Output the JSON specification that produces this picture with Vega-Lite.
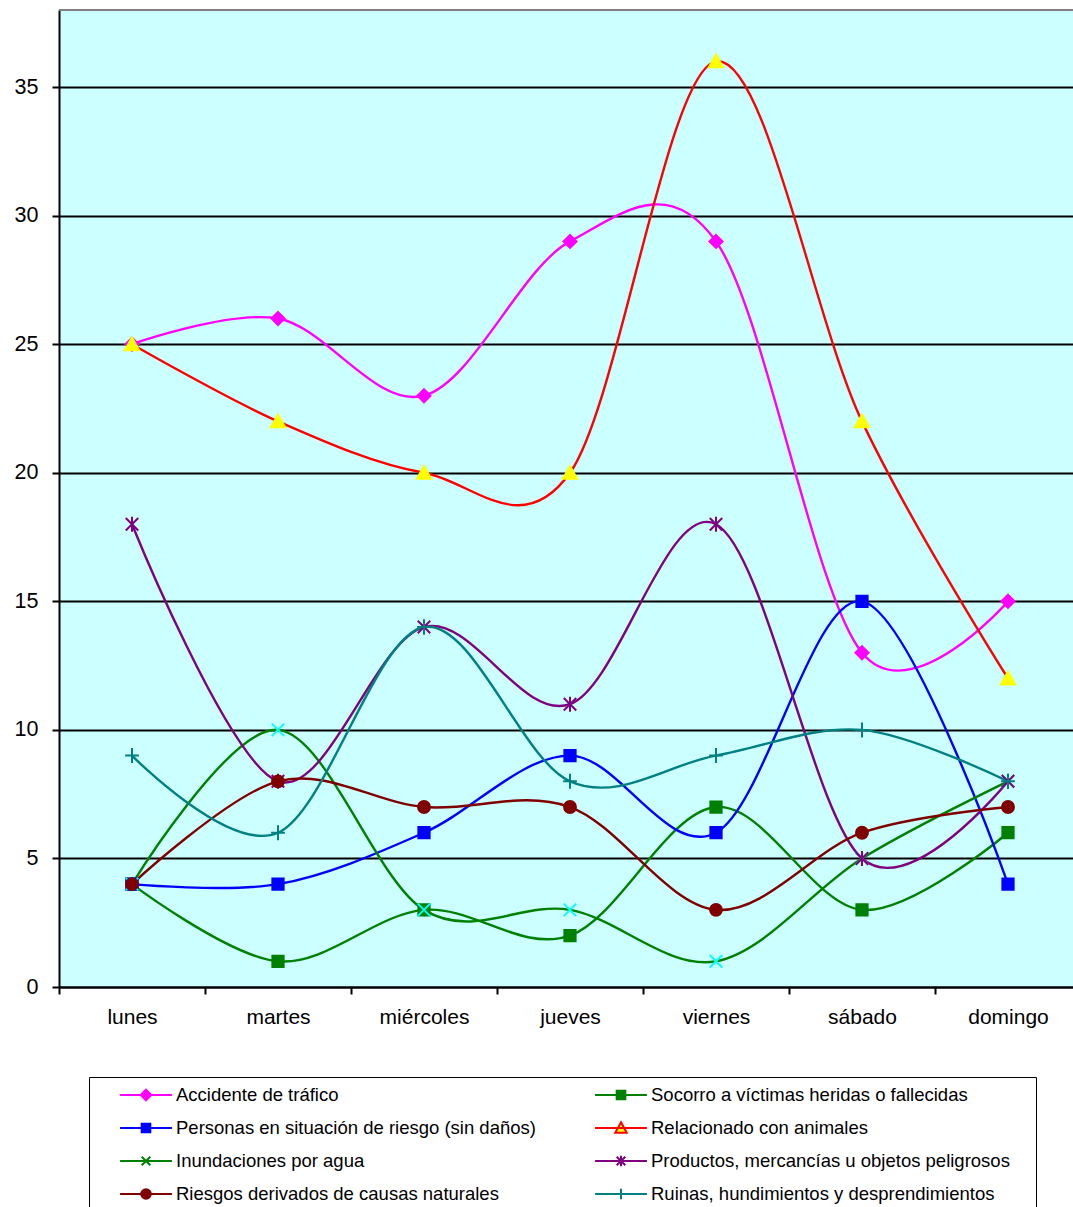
{
  "$schema": "https://vega.github.io/schema/vega-lite/v6.json",
  "width": 1014,
  "height": 977,
  "autosize": {"type": "none"},
  "padding": {"left": 59, "top": 10, "right": 0, "bottom": 220},
  "background": "white",
  "config": {"view": {"fill": "#CCFFFF", "stroke": null}, "font": "Liberation Sans"},
  "data": {"values": [
    {"dia": "lunes", "serie": "Accidente de tráfico", "valor": 25},
    {"dia": "martes", "serie": "Accidente de tráfico", "valor": 26},
    {"dia": "miércoles", "serie": "Accidente de tráfico", "valor": 23},
    {"dia": "jueves", "serie": "Accidente de tráfico", "valor": 29},
    {"dia": "viernes", "serie": "Accidente de tráfico", "valor": 29},
    {"dia": "sábado", "serie": "Accidente de tráfico", "valor": 13},
    {"dia": "domingo", "serie": "Accidente de tráfico", "valor": 15},
    {"dia": "lunes", "serie": "Socorro a víctimas heridas o fallecidas", "valor": 4},
    {"dia": "martes", "serie": "Socorro a víctimas heridas o fallecidas", "valor": 1},
    {"dia": "miércoles", "serie": "Socorro a víctimas heridas o fallecidas", "valor": 3},
    {"dia": "jueves", "serie": "Socorro a víctimas heridas o fallecidas", "valor": 2},
    {"dia": "viernes", "serie": "Socorro a víctimas heridas o fallecidas", "valor": 7},
    {"dia": "sábado", "serie": "Socorro a víctimas heridas o fallecidas", "valor": 3},
    {"dia": "domingo", "serie": "Socorro a víctimas heridas o fallecidas", "valor": 6},
    {"dia": "lunes", "serie": "Personas en situación de riesgo (sin daños)", "valor": 4},
    {"dia": "martes", "serie": "Personas en situación de riesgo (sin daños)", "valor": 4},
    {"dia": "miércoles", "serie": "Personas en situación de riesgo (sin daños)", "valor": 6},
    {"dia": "jueves", "serie": "Personas en situación de riesgo (sin daños)", "valor": 9},
    {"dia": "viernes", "serie": "Personas en situación de riesgo (sin daños)", "valor": 6},
    {"dia": "sábado", "serie": "Personas en situación de riesgo (sin daños)", "valor": 15},
    {"dia": "domingo", "serie": "Personas en situación de riesgo (sin daños)", "valor": 4},
    {"dia": "lunes", "serie": "Relacionado con animales", "valor": 25},
    {"dia": "martes", "serie": "Relacionado con animales", "valor": 22},
    {"dia": "miércoles", "serie": "Relacionado con animales", "valor": 20},
    {"dia": "jueves", "serie": "Relacionado con animales", "valor": 20},
    {"dia": "viernes", "serie": "Relacionado con animales", "valor": 36},
    {"dia": "sábado", "serie": "Relacionado con animales", "valor": 22},
    {"dia": "domingo", "serie": "Relacionado con animales", "valor": 12},
    {"dia": "lunes", "serie": "Inundaciones por agua", "valor": 4},
    {"dia": "martes", "serie": "Inundaciones por agua", "valor": 10},
    {"dia": "miércoles", "serie": "Inundaciones por agua", "valor": 3},
    {"dia": "jueves", "serie": "Inundaciones por agua", "valor": 3},
    {"dia": "viernes", "serie": "Inundaciones por agua", "valor": 1},
    {"dia": "sábado", "serie": "Inundaciones por agua", "valor": 5},
    {"dia": "domingo", "serie": "Inundaciones por agua", "valor": 8},
    {"dia": "lunes", "serie": "Productos, mercancías u objetos peligrosos", "valor": 18},
    {"dia": "martes", "serie": "Productos, mercancías u objetos peligrosos", "valor": 8},
    {"dia": "miércoles", "serie": "Productos, mercancías u objetos peligrosos", "valor": 14},
    {"dia": "jueves", "serie": "Productos, mercancías u objetos peligrosos", "valor": 11},
    {"dia": "viernes", "serie": "Productos, mercancías u objetos peligrosos", "valor": 18},
    {"dia": "sábado", "serie": "Productos, mercancías u objetos peligrosos", "valor": 5},
    {"dia": "domingo", "serie": "Productos, mercancías u objetos peligrosos", "valor": 8},
    {"dia": "lunes", "serie": "Riesgos derivados de causas naturales", "valor": 4},
    {"dia": "martes", "serie": "Riesgos derivados de causas naturales", "valor": 8},
    {"dia": "miércoles", "serie": "Riesgos derivados de causas naturales", "valor": 7},
    {"dia": "jueves", "serie": "Riesgos derivados de causas naturales", "valor": 7},
    {"dia": "viernes", "serie": "Riesgos derivados de causas naturales", "valor": 3},
    {"dia": "sábado", "serie": "Riesgos derivados de causas naturales", "valor": 6},
    {"dia": "domingo", "serie": "Riesgos derivados de causas naturales", "valor": 7},
    {"dia": "lunes", "serie": "Ruinas, hundimientos y desprendimientos", "valor": 9},
    {"dia": "martes", "serie": "Ruinas, hundimientos y desprendimientos", "valor": 6},
    {"dia": "miércoles", "serie": "Ruinas, hundimientos y desprendimientos", "valor": 14},
    {"dia": "jueves", "serie": "Ruinas, hundimientos y desprendimientos", "valor": 8},
    {"dia": "viernes", "serie": "Ruinas, hundimientos y desprendimientos", "valor": 9},
    {"dia": "sábado", "serie": "Ruinas, hundimientos y desprendimientos", "valor": 10},
    {"dia": "domingo", "serie": "Ruinas, hundimientos y desprendimientos", "valor": 8}
  ]},
  "encoding": {
    "x": {
      "field": "dia", "type": "nominal",
      "sort": ["lunes", "martes", "miércoles", "jueves", "viernes", "sábado", "domingo"],
      "scale": {"type": "band", "range": [0, 1022], "paddingInner": 0, "paddingOuter": 0},
      "axis": {"title": null, "labelAngle": 0, "grid": false, "domainColor": "black", "domainWidth": 2, "tickColor": "black", "tickWidth": 2, "tickSize": 7, "tickBand": "extent", "labelFontSize": 21, "labelColor": "black", "labelPadding": 12}
    },
    "y": {
      "field": "valor", "type": "quantitative",
      "scale": {"domain": [0, 38], "nice": false, "zero": true},
      "axis": {"title": null, "values": [0, 5, 10, 15, 20, 25, 30, 35], "grid": true, "gridColor": "black", "gridWidth": 2, "domainColor": "black", "domainWidth": 2, "tickColor": "black", "tickWidth": 2, "tickSize": 7, "labelFontSize": 21.5, "labelColor": "black", "labelPadding": 14}
    }
  },
  "layer": [
    {
      "data": {"values": [{"tope": 38}]},
      "mark": {"type": "rule", "color": "#808080", "strokeWidth": 2},
      "encoding": {"x": null, "y": {"field": "tope", "type": "quantitative"}}
    },
    {
      "mark": {"type": "line", "interpolate": "cardinal", "strokeWidth": 2.4},
      "encoding": {
        "stroke": {
          "field": "serie", "type": "nominal",
          "scale": {
            "domain": ["Accidente de tráfico", "Socorro a víctimas heridas o fallecidas", "Personas en situación de riesgo (sin daños)", "Relacionado con animales", "Inundaciones por agua", "Productos, mercancías u objetos peligrosos", "Riesgos derivados de causas naturales", "Ruinas, hundimientos y desprendimientos"],
            "range": ["#FF00FF", "#008000", "#0000FF", "#FF0000", "#008000", "#800080", "#800000", "#008080"]
          },
          "legend": {
            "title": " ", "titleOrient": "right", "titlePadding": 18, "titleFontSize": 10,
            "orient": "none", "legendX": 30, "legendY": 1067, "direction": "horizontal",
            "columns": 2, "columnPadding": 36, "rowPadding": 13, "clipHeight": 20,
            "symbolSize": 9216, "symbolStrokeWidth": 2, "labelOffset": -19,
            "labelFontSize": 18.5, "labelColor": "black", "labelLimit": 600,
            "padding": 8, "strokeColor": "black", "fillColor": "white",
            "encode": {"symbols": {"update": {
              "shape": {"signal": "{'Accidente de tráfico': 'M-0.54,0L0.54,0M0,-0.11L0.11,0L0,0.11L-0.11,0Z', 'Socorro a víctimas heridas o fallecidas': 'M-0.54,0L0.54,0M-0.09,-0.09L0.09,-0.09L0.09,0.09L-0.09,0.09Z', 'Personas en situación de riesgo (sin daños)': 'M-0.54,0L0.54,0M-0.09,-0.09L0.09,-0.09L0.09,0.09L-0.09,0.09Z', 'Relacionado con animales': 'M-0.54,0L0.54,0M0,-0.12L0.12,0.1L-0.12,0.1Z', 'Inundaciones por agua': 'M-0.54,0L0.54,0M-0.09,-0.09L0.09,0.09M-0.09,0.09L0.09,-0.09', 'Productos, mercancías u objetos peligrosos': 'M-0.54,0L0.54,0M-0.09,-0.09L0.09,0.09M-0.09,0.09L0.09,-0.09M0,-0.11L0,0.11', 'Riesgos derivados de causas naturales': 'M-0.54,0L0.54,0M-0.1,0A0.1,0.1 0 1,0 0.1,0A0.1,0.1 0 1,0 -0.1,0Z', 'Ruinas, hundimientos y desprendimientos': 'M-0.54,0L0.54,0M0,-0.11L0,0.11'}[datum.value]"},
              "fill": {"signal": "{'Accidente de tráfico': '#FF00FF', 'Socorro a víctimas heridas o fallecidas': '#008000', 'Personas en situación de riesgo (sin daños)': '#0000FF', 'Relacionado con animales': '#FFFF00', 'Inundaciones por agua': 'transparent', 'Productos, mercancías u objetos peligrosos': 'transparent', 'Riesgos derivados de causas naturales': '#800000', 'Ruinas, hundimientos y desprendimientos': 'transparent'}[datum.value]"}
            }}}
          }
        }
      }
    },
    {
      "mark": {"type": "point", "size": 156, "strokeWidth": 2, "opacity": 1},
      "encoding": {
        "shape": {
          "field": "serie", "type": "nominal", "legend": null,
          "scale": {
            "domain": ["Accidente de tráfico", "Socorro a víctimas heridas o fallecidas", "Personas en situación de riesgo (sin daños)", "Relacionado con animales", "Inundaciones por agua", "Productos, mercancías u objetos peligrosos", "Riesgos derivados de causas naturales", "Ruinas, hundimientos y desprendimientos"],
            "range": ["M0,-1.05L1.05,0L0,1.05L-1.05,0Z", "M-0.9,-0.9L0.9,-0.9L0.9,0.9L-0.9,0.9Z", "M-0.9,-0.9L0.9,-0.9L0.9,0.9L-0.9,0.9Z", "M0,-1.1L1.15,0.95L-1.15,0.95Z", "M-1,-1L1,1M-1,1L1,-1", "M-1,-1L1,1M-1,1L1,-1M0,-1.2L0,1.2", "M-0.95,0A0.95,0.95 0 1,0 0.95,0A0.95,0.95 0 1,0 -0.95,0Z", "M-1.1,0L1.1,0M0,-1.2L0,1.2"]
          }
        },
        "fill": {
          "field": "serie", "type": "nominal", "legend": null,
          "scale": {
            "domain": ["Accidente de tráfico", "Socorro a víctimas heridas o fallecidas", "Personas en situación de riesgo (sin daños)", "Relacionado con animales", "Inundaciones por agua", "Productos, mercancías u objetos peligrosos", "Riesgos derivados de causas naturales", "Ruinas, hundimientos y desprendimientos"],
            "range": ["#FF00FF", "#008000", "#0000FF", "#FFFF00", "transparent", "transparent", "#800000", "transparent"]
          }
        },
        "stroke": {
          "field": "serie", "type": "nominal", "legend": null,
          "scale": {
            "domain": ["Accidente de tráfico", "Socorro a víctimas heridas o fallecidas", "Personas en situación de riesgo (sin daños)", "Relacionado con animales", "Inundaciones por agua", "Productos, mercancías u objetos peligrosos", "Riesgos derivados de causas naturales", "Ruinas, hundimientos y desprendimientos"],
            "range": ["#FF00FF", "#008000", "#0000FF", "#FFFF00", "#00FFFF", "#800080", "#800000", "#008080"]
          }
        }
      }
    }
  ],
  "resolve": {"scale": {"stroke": "independent"}}
}
